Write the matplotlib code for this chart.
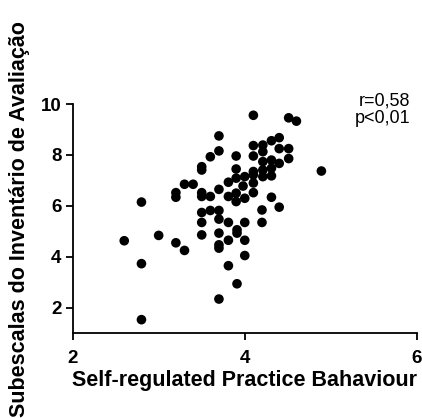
import matplotlib
matplotlib.use('Agg')
import matplotlib.pyplot as plt

# Self-regulated practice behaviour (x) vs evaluation inventory subscales (y)
practice = [2.60, 2.80, 2.80, 2.80, 3.00, 3.20, 3.30, 3.20, 3.20, 3.30, 3.40,
            3.50, 3.50, 3.50, 3.50, 3.50, 3.50, 3.50,
            3.60, 3.60, 3.60,
            3.70, 3.70, 3.70, 3.70, 3.70, 3.70, 3.70, 3.70, 3.70,
            3.81, 3.81, 3.81, 3.81, 3.81,
            3.90, 3.90, 3.90, 3.90, 3.90, 3.91, 3.91, 3.91,
            4.00, 3.98, 4.00, 4.00, 4.00, 4.00,
            4.10, 4.10, 4.10, 4.10, 4.10, 4.10, 4.10,
            4.21, 4.21, 4.21, 4.21, 4.21, 4.20, 4.20,
            4.31, 4.31, 4.31, 4.31, 4.31,
            4.40, 4.40, 4.40, 4.40,
            4.51, 4.51, 4.51, 4.60, 4.89]
subscales = [4.63, 6.15, 3.73, 1.53, 4.84, 4.55, 4.25, 6.52, 6.34, 6.85, 6.85,
             7.54, 7.41, 6.52, 6.37, 5.74, 5.35, 4.86,
             7.93, 6.37, 5.82,
             8.75, 8.16, 6.65, 5.82, 5.48, 4.93, 4.47, 4.34, 2.34,
             6.93, 6.37, 5.35, 4.65, 3.65,
             7.96, 7.45, 7.09, 6.50, 6.17, 5.06, 4.93, 2.94,
             7.15, 6.78, 6.30, 5.35, 4.65, 4.05,
             9.56, 8.37, 7.96, 7.35, 7.22, 6.90, 6.52,
             8.39, 8.13, 7.74, 7.41, 7.15, 5.84, 5.35,
             8.56, 7.80, 7.48, 7.18, 6.34,
             8.68, 8.25, 7.67, 5.95,
             9.46, 8.25, 7.86, 9.33, 7.37]

x_ticks = [2, 4, 6]
y_ticks = [2, 4, 6, 8, 10]
stats_text = 'r=0,58\np<0,01'

plt.rcParams['font.family'] = ['Liberation Sans', 'DejaVu Sans']

fig = plt.figure(figsize=(4.22, 4.18), dpi=100)
ax = fig.add_axes([0.172, 0.203, 0.816, 0.548])

ax.scatter(practice, subscales, s=48, color='black', edgecolors='none', zorder=3)

ax.set_xlim(2, 6)
ax.set_ylim(1, 10)
ax.set_xticks(x_ticks)
ax.set_yticks(y_ticks)

for side in ['top', 'right']:
    ax.spines[side].set_visible(False)
for side in ['left', 'bottom']:
    ax.spines[side].set_linewidth(1.3)
ax.tick_params(direction='out', length=5, width=1.3, labelsize=13.5)
ax.tick_params(axis='x', pad=7)
ax.tick_params(axis='y', pad=3)
for lbl in ax.get_xticklabels() + ax.get_yticklabels():
    lbl.set_fontweight('bold')

ax.set_xlabel('Self-regulated Practice Bahaviour', fontsize=15.5, fontweight='bold', labelpad=2)
ax.set_ylabel('Subescalas do Inventário de Avaliação', fontsize=15.5, fontweight='bold', labelpad=8)

ax.text(5.92, 10.45, stats_text, ha='right', va='top', fontsize=13, linespacing=1.05)

fig.savefig('out.png', dpi=100)
